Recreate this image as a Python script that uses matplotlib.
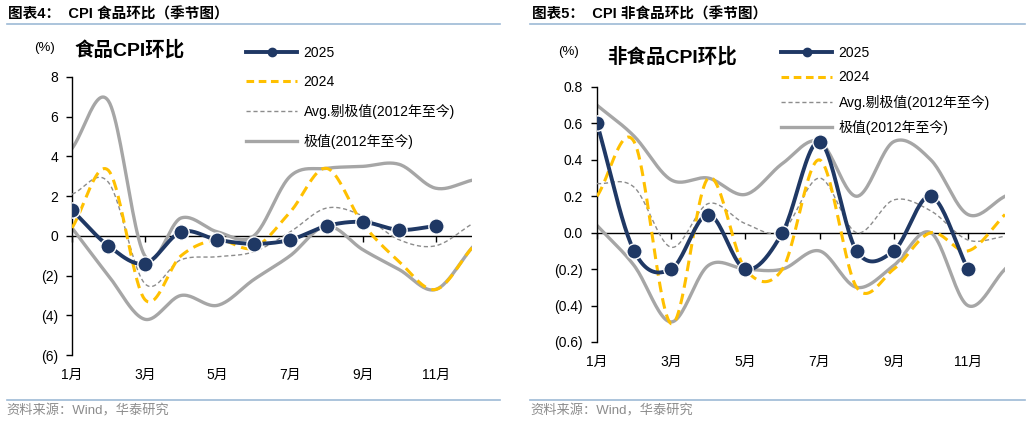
import numpy as np
import matplotlib
matplotlib.use('Agg')
import matplotlib.pyplot as plt
from matplotlib.lines import Line2D
from matplotlib.ticker import FuncFormatter

plt.rcParams['font.family'] = ['Liberation Sans', 'Noto Sans CJK SC', 'DejaVu Sans']

W, H = 1030, 424

months = np.arange(1, 13)
month_ticks = [1, 3, 5, 7, 9, 11]
month_labels = ['1月', '3月', '5月', '7月', '9月', '11月']

# food CPI mom (%)
food_2025 = [1.3, -0.5, -1.4, 0.2, -0.2, -0.4, -0.2, 0.5, 0.7, 0.3, 0.5]
food_2024 = [0.4, 3.3, -3.2, -1.0, -0.2, -0.6, 1.2, 3.4, 0.6, -1.3, -2.7, -0.6]
food_avg = [2.1, 2.7, -2.4, -1.2, -1.05, -0.8, 0.2, 1.4, 1.0, -0.2, -0.5, 0.6]
food_max = [4.4, 6.8, -1.0, 0.9, 0.2, 0.0, 3.0, 3.4, 3.5, 3.6, 2.4, 2.8]
food_min = [0.4, -2.0, -4.2, -3.0, -3.5, -2.2, -1.0, 0.5, -0.7, -1.7, -2.7, -0.6]

# non-food CPI mom (%)
nonfood_2025 = [0.6, -0.1, -0.2, 0.1, -0.2, 0.0, 0.5, -0.1, -0.1, 0.2, -0.2]
nonfood_2024 = [0.2, 0.5, -0.5, 0.3, -0.2, -0.2, 0.4, -0.3, -0.2, 0.0, -0.1, 0.1]
nonfood_avg = [0.27, 0.25, -0.08, 0.16, 0.05, 0.01, 0.3, 0.0, 0.18, 0.12, -0.04, -0.02]
nonfood_max = [0.70, 0.53, 0.29, 0.30, 0.21, 0.38, 0.50, 0.20, 0.50, 0.40, 0.10, 0.20]
nonfood_min = [0.04, -0.18, -0.49, -0.18, -0.20, -0.20, -0.10, -0.30, -0.18, 0.0, -0.40, -0.20]

NAVY = '#1f3864'
GOLD = '#ffc000'
DGRAY = '#8c8c8c'
LGRAY = '#a6a6a6'


def smooth(x, y, n=24):
    # catmull-rom, like the excel "smoothed line"
    x = np.asarray(x, float)
    y = np.asarray(y, float)
    px = np.concatenate([[2 * x[0] - x[1]], x, [2 * x[-1] - x[-2]]])
    py = np.concatenate([[2 * y[0] - y[1]], y, [2 * y[-1] - y[-2]]])
    xs, ys = [], []
    t = np.linspace(0, 1, n, endpoint=False)
    for i in range(1, len(px) - 2):
        for p, out in ((px, xs), (py, ys)):
            p0, p1, p2, p3 = p[i - 1], p[i], p[i + 1], p[i + 2]
            out.append(0.5 * (2 * p1 + (-p0 + p2) * t + (2 * p0 - 5 * p1 + 4 * p2 - p3) * t ** 2
                              + (-p0 + 3 * p1 - 3 * p2 + p3) * t ** 3))
    xs.append([x[-1]])
    ys.append([y[-1]])
    return np.concatenate(xs), np.concatenate(ys)


def paren_fmt(dec):
    def f(v, pos):
        s = f'{abs(v):.{dec}f}'
        return f'({s})' if v < -1e-9 else s
    return FuncFormatter(f)


def px_rect(x0, y0, x1, y1):
    return [x0 / W, 1 - y1 / H, (x1 - x0) / W, (y1 - y0) / H]


fig = plt.figure(figsize=(W / 100, H / 100), dpi=100)


def panel(rect, ylim, yticks, dec, s25, s24, avg, mx, mn):
    ax = fig.add_axes(rect)
    ax.set_xlim(1, 12)
    ax.set_ylim(*ylim)
    for sp in ['top', 'right', 'bottom']:
        ax.spines[sp].set_visible(False)
    ax.spines['left'].set_linewidth(1.0)
    ax.set_yticks(yticks)
    ax.yaxis.set_major_formatter(paren_fmt(dec))
    ax.tick_params(axis='y', direction='out', length=4, width=1, labelsize=10, pad=6)
    ax.set_xticks(month_ticks)
    ax.set_xticklabels(month_labels)
    ax.tick_params(axis='x', length=0, labelsize=10, pad=9)
    ax.axhline(0, color='black', lw=1.0, zorder=1)
    # tick marks sitting on the zero line
    loc = (0 - ylim[0]) / (ylim[1] - ylim[0])
    sec = ax.secondary_xaxis(loc)
    sec.set_xticks(month_ticks)
    sec.tick_params(axis='x', direction='out', length=4, width=1, labelbottom=False)
    sec.spines['bottom'].set_visible(False)

    for lo_hi in (mx, mn):
        sx, sy = smooth(months, lo_hi)
        ax.plot(sx, sy, color=LGRAY, lw=2.4, zorder=2)
    sx, sy = smooth(months, avg)
    ax.plot(sx, sy, color=DGRAY, lw=1.0, ls=(0, (3, 2)), zorder=3)
    sx, sy = smooth(months, s24)
    ax.plot(sx, sy, color=GOLD, lw=2.2, ls=(0, (3.5, 2)), zorder=4)
    m25 = months[:len(s25)]
    sx, sy = smooth(m25, s25)
    ax.plot(sx, sy, color=NAVY, lw=2.8, zorder=5, solid_capstyle='round')
    ax.plot(m25, s25, 'o', color=NAVY, ms=11, mec='white', mew=1.0, zorder=6)
    return ax


ax1 = panel(px_rect(72, 77, 472, 355), (-6, 8), np.arange(-6, 9, 2), 0,
            food_2025, food_2024, food_avg, food_max, food_min)
ax2 = panel(px_rect(597, 87, 1005, 342), (-0.6, 0.8), np.round(np.arange(-0.6, 0.81, 0.2), 1), 1,
            nonfood_2025, nonfood_2024, nonfood_avg, nonfood_max, nonfood_min)

handles = [
    Line2D([], [], color=NAVY, lw=2.8, marker='o', ms=6),
    Line2D([], [], color=GOLD, lw=2.2, ls=(0, (2.5, 1.5))),
    Line2D([], [], color=DGRAY, lw=1.0, ls=(0, (3, 2))),
    Line2D([], [], color=LGRAY, lw=2.4),
]
labels = ['2025', '2024', 'Avg.剔极值(2012年至今)', '极值(2012年至今)']

fig.legend(handles, labels, loc='upper left', bbox_to_anchor=(246 / W, 1 - 46 / H),
           frameon=False, fontsize=10, handlelength=3.7, handletextpad=0.45,
           labelspacing=1.08, borderaxespad=0, borderpad=0)
fig.legend(handles, labels, loc='upper left', bbox_to_anchor=(781 / W, 1 - 46 / H),
           frameon=False, fontsize=10, handlelength=3.7, handletextpad=0.45,
           labelspacing=0.75, borderaxespad=0, borderpad=0)

# titles, headers and source notes
fig.text(8 / W, 1 - 14 / H, '图表4：  CPI 食品环比（季节图）', fontsize=10.5, fontweight='bold', va='center')
fig.text(532 / W, 1 - 14 / H, '图表5：  CPI 非食品环比（季节图）', fontsize=10.5, fontweight='bold', va='center')
fig.text(34 / W, 1 - 48 / H, '(%)', fontsize=9.5, va='center')
fig.text(74 / W, 1 - 50 / H, '食品CPI环比', fontsize=14, fontweight='bold', va='center')
fig.text(558 / W, 1 - 52 / H, '(%)', fontsize=9.5, va='center')
fig.text(607 / W, 1 - 57 / H, '非食品CPI环比', fontsize=14, fontweight='bold', va='center')
fig.text(6 / W, 1 - 411 / H, '资料来源：Wind，华泰研究', fontsize=9.5, color='#8c8c8c', va='center')
fig.text(530 / W, 1 - 411 / H, '资料来源：Wind，华泰研究', fontsize=9.5, color='#8c8c8c', va='center')

for x0, x1 in ((7, 500), (530, 1025)):
    for yy in (24, 400):
        fig.add_artist(Line2D([x0 / W, x1 / W], [1 - yy / H, 1 - yy / H], color='#9dbad6', lw=1.2))

fig.savefig('out.png', dpi=100)
